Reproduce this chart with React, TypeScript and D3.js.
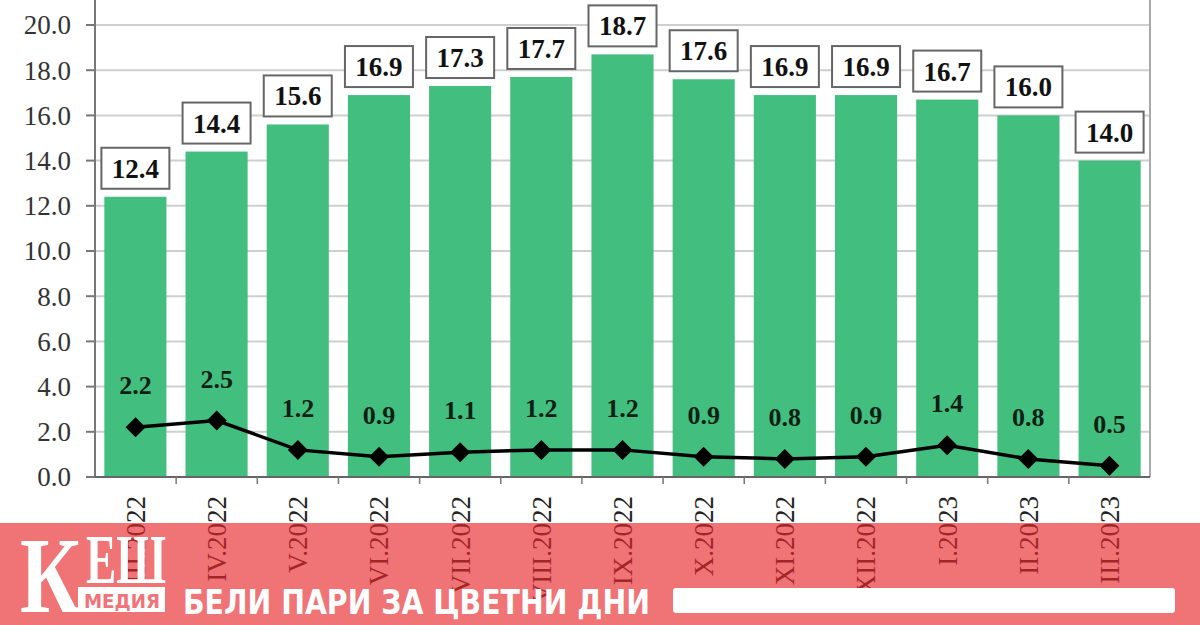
import React from "react";
import * as d3 from "d3";

const categories = ["III.2022", "IV.2022", "V.2022", "VI.2022", "VII.2022", "VIII.2022", "IX.2022", "X.2022", "XI.2022", "XII.2022", "I.2023", "II.2023", "III.2023"];
const barValues = [12.4, 14.4, 15.6, 16.9, 17.3, 17.7, 18.7, 17.6, 16.9, 16.9, 16.7, 16.0, 14.0];
const lineValues = [2.2, 2.5, 1.2, 0.9, 1.1, 1.2, 1.2, 0.9, 0.8, 0.9, 1.4, 0.8, 0.5];
const yTicks = [0, 2, 4, 6, 8, 10, 12, 14, 16, 18, 20];
const bannerTagline = "БЕЛИ ПАРИ ЗА ЦВЕТНИ ДНИ";

const W = 1200;
const H = 625;
const left = 95;
const right = 1150;
const bottom = 477;
const top = 25;

export default function App() {
  const x = d3.scaleBand<string>().domain(categories).range([left, right]).paddingInner(0.235).paddingOuter(0.115);
  const xb = d3.scaleBand<string>().domain(categories).range([left, right]);
  const y = d3.scaleLinear().domain([0, 20]).range([bottom, top]);
  const serif = "'Liberation Serif', 'Times New Roman', serif";
  const line = d3.line<number>().x((_, i) => (xb(categories[i]) as number) + xb.bandwidth() / 2).y((d) => y(d));

  return (
    <svg width={W} height={H} style={{ position: "absolute", left: 0, top: 0, background: "#fff" }}>
      <rect x={0} y={0} width={W} height={H} fill="#fff" />
      {/* gridlines */}
      {yTicks.filter((t) => t > 0).map((t) => (
        <line key={t} x1={left} x2={right} y1={y(t)} y2={y(t)} stroke="#cfcfcf" strokeWidth={2} />
      ))}
      {/* bars */}
      {barValues.map((v, i) => (
        <rect key={i} x={x(categories[i])} y={y(v)} width={x.bandwidth()} height={bottom - y(v)} fill="#42bf7f" />
      ))}
      {/* axes */}
      <line x1={left} x2={left} y1={-2} y2={bottom} stroke="#777" strokeWidth={2} />
      <line x1={right} x2={right} y1={-2} y2={bottom} stroke="#aaa" strokeWidth={2} />
      <line x1={86} x2={right} y1={bottom} y2={bottom} stroke="#666" strokeWidth={2} />
      {yTicks.map((t) => (
        <g key={t}>
          <line x1={86} x2={left} y1={y(t)} y2={y(t)} stroke="#777" strokeWidth={2} />
          <text x={71} y={y(t)} dy="0.35em" textAnchor="end" fontFamily={serif} fontSize={27} fill="#333">
            {t.toFixed(1)}
          </text>
        </g>
      ))}
      {categories.slice(1).map((c) => (
        <line key={c} x1={xb(c)} x2={xb(c)} y1={bottom} y2={bottom + 7} stroke="#777" strokeWidth={1.5} />
      ))}
      {/* x labels */}
      {categories.map((c) => {
        const cx = (xb(c) as number) + xb.bandwidth() / 2;
        return (
          <text key={c} transform={`translate(${cx},${496}) rotate(-90)`} textAnchor="end" dy="0.35em" fontFamily={serif} fontSize={27} fill="#222">
            {c}
          </text>
        );
      })}
      {/* bar labels */}
      {barValues.map((v, i) => {
        const cx = (x(categories[i]) as number) + x.bandwidth() / 2;
        const by = y(v) - 8;
        return (
          <g key={i}>
            <rect x={cx - 34} y={by - 41} width={68} height={41} fill="#fff" stroke="#666" strokeWidth={2} />
            <text x={cx} y={by - 20.5} dy="0.35em" textAnchor="middle" fontFamily={serif} fontWeight="bold" fontSize={27} fill="#111">
              {v.toFixed(1)}
            </text>
          </g>
        );
      })}
      {/* line */}
      <path d={line(lineValues) as string} fill="none" stroke="#000" strokeWidth={3.5} />
      {lineValues.map((v, i) => {
        const cx = (xb(categories[i]) as number) + xb.bandwidth() / 2;
        const cy = y(v);
        return (
          <g key={i}>
            <path d={`M${cx},${cy - 10}L${cx + 10},${cy}L${cx},${cy + 10}L${cx - 10},${cy}Z`} fill="#000" />
            <text x={cx} y={cy - 42} dy="0.35em" textAnchor="middle" fontFamily={serif} fontWeight="bold" fontSize={26} fill="#0d1f14">
              {v.toFixed(1)}
            </text>
          </g>
        );
      })}
      {/* banner */}
      <rect x={0} y={523} width={W} height={H - 523} fill="rgb(232,40,45)" fillOpacity={0.65} />
      <text x={20} y={612} fontFamily={serif} fontWeight="bold" fontSize={108} fill="#fff" textLength={60} lengthAdjust="spacingAndGlyphs">
        К
      </text>
      <text x={86} y={583} fontFamily={serif} fontWeight="bold" fontSize={70} fill="#fff" textLength={80} lengthAdjust="spacingAndGlyphs">
        ЕШ
      </text>
      <rect x={78} y={587} width={87} height={25} fill="#fff" />
      <text x={84} y={608} fontFamily="'DejaVu Sans', sans-serif" fontWeight="bold" fontSize={20} fill="#f0737a" textLength={76} lengthAdjust="spacingAndGlyphs">
        МЕДИЯ
      </text>
      <text x={183} y={614} fontFamily="'DejaVu Sans', sans-serif" fontWeight="bold" fontSize={33} fill="#fff" textLength={467} lengthAdjust="spacingAndGlyphs">
        {bannerTagline}
      </text>
      <rect x={673} y={588} width={502} height={25} rx={3} fill="#fff" />
    </svg>
  );
}
